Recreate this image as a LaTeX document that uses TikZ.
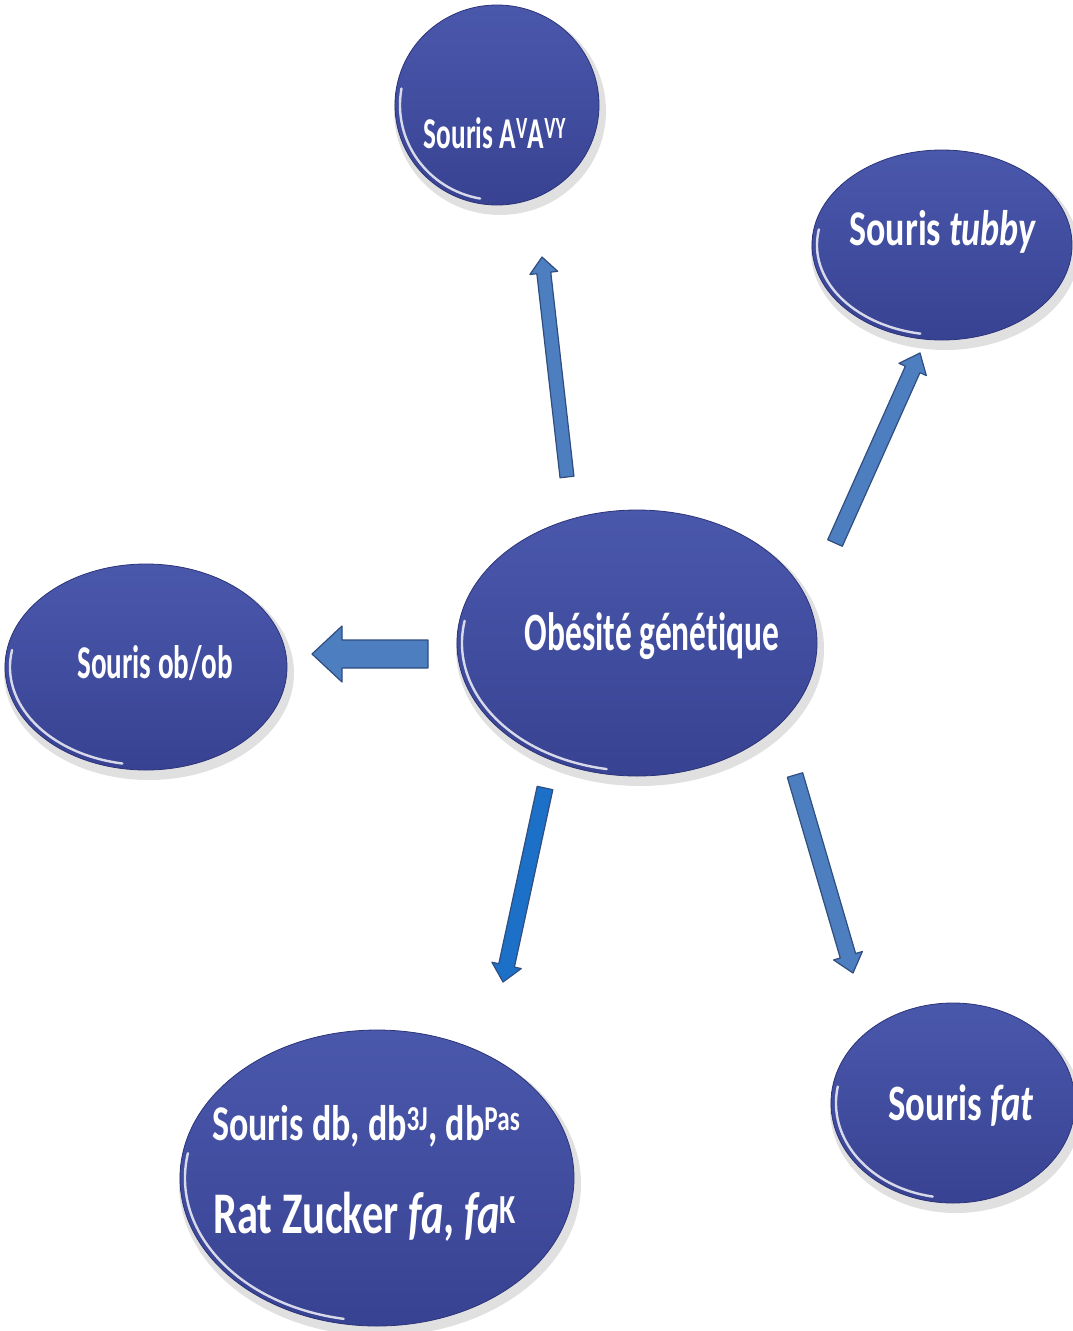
\documentclass[tikz,border=0pt]{standalone}
\usepackage{fontspec}
\setmainfont{Carlito}
\newfontfamily\cfont[FakeStretch=0.62,Ligatures=NoCommon]{Carlito}
\newfontfamily\wfont[FakeStretch=0.72,Ligatures=NoCommon]{Carlito}
\usetikzlibrary{shapes.geometric,calc}
\definecolor{bubtop}{RGB}{74,88,172}
\definecolor{bubbot}{RGB}{56,66,146}
\definecolor{bubedge}{RGB}{44,52,120}
\definecolor{arrfill}{RGB}{76,126,192}
\definecolor{arredge}{RGB}{48,78,128}
\definecolor{arrbright}{RGB}{28,112,200}
\tikzset{
  bubble/.style={ellipse, top color=bubtop, bottom color=bubbot, draw=bubedge, line width=0.8pt, inner sep=0pt},
  bshadow/.style={ellipse, fill=black, opacity=0.12, inner sep=0pt},
  rim/.style={white, opacity=0.8, line width=2.4pt, line cap=round},
  btext/.style={text=white, font=\cfont\bfseries, inner sep=0pt},
  wtext/.style={text=white, font=\wfont\bfseries, inner sep=0pt},
}
\newcommand\mybubble[5]{%
  \node[bshadow, minimum width=2*#4+8, minimum height=2*#5+8] at (#2+3,#3+6) {};
  \node[bubble, minimum width=2*#4, minimum height=2*#5] (#1) at (#2,#3) {};
  \draw[rim] (#2,#3) ++(100:{#4-5} and {#5-5}) arc[start angle=100,end angle=190,x radius=#4-5,y radius=#5-5];
}
\newcommand\blockarrow[6]{%
  \coordinate (ah) at ($(#2)!#5!(#1)$);
  \filldraw[fill=#6, draw=arredge, line width=1.2pt, line join=round]
    ($(#1)!#3!90:(#2)$) -- ($(ah)!#3!90:(#2)$) -- ($(ah)!#4!90:(#2)$) -- (#2)
    -- ($(ah)!#4!-90:(#2)$) -- ($(ah)!#3!-90:(#2)$) -- ($(#1)!#3!-90:(#2)$) -- cycle;
}
\begin{document}
\begin{tikzpicture}[x=1pt,y=-1pt]
\useasboundingbox (0,0) rectangle (1073,1331);
\fill[white] (0,0) rectangle (1073,1331);

% bubbles
\mybubble{top}{497}{105}{102}{100}
\mybubble{tubby}{942}{245}{130}{95}
\mybubble{obob}{146}{667}{141}{103}
\mybubble{center}{637}{643}{180}{133}
\mybubble{dbrat}{377}{1178}{197}{148}
\mybubble{fat}{953}{1103}{122}{100}

% texts
\node[btext, anchor=base] (topt) at (495,148) {\fontsize{44}{48}\selectfont Souris A\textsuperscript{V}A\textsuperscript{VY}};
\node[wtext, anchor=base] (tubbyt) at (943,245) {\fontsize{50}{54}\selectfont Souris \textit{tubby}};
\node[btext, anchor=base] (obobt) at (155,678) {\fontsize{47}{50}\selectfont Souris ob/ob};
\node[btext, anchor=base] (centert) at (652,650) {\fontsize{54}{58}\selectfont Obésité génétique};
\node[wtext, anchor=base] (fatt) at (961,1120) {\fontsize{51}{54}\selectfont Souris \textit{fat}};
\node[wtext, anchor=base west] (dbt) at (212,1140) {\fontsize{50}{54}\selectfont Souris db, db\textsuperscript{3J}, db\textsuperscript{Pas}};
\node[wtext, anchor=base west] (ratt) at (213,1233) {\fontsize{59}{63}\selectfont Rat Zucker \textit{fa}, \textit{fa}\textsuperscript{K}};

% arrow end points
\coordinate (a1s) at (567,477);  \coordinate (a1e) at (542,257);
\coordinate (a2s) at (835,543);  \coordinate (a2e) at (920,353);
\coordinate (a3s) at (428,654);  \coordinate (a3e) at (312,654);
\coordinate (a4s) at (545,788);  \coordinate (a4e) at (503,982);
\coordinate (a5s) at (795,775);  \coordinate (a5e) at (853,973);

\blockarrow{a1s}{a1e}{7pt}{14pt}{16pt}{arrfill}
\blockarrow{a2s}{a2e}{8pt}{15pt}{18pt}{arrfill}
\blockarrow{a3s}{a3e}{14pt}{28pt}{30pt}{arrfill}
\blockarrow{a4s}{a4e}{8pt}{15pt}{17pt}{arrbright}
\blockarrow{a5s}{a5e}{8pt}{15pt}{18pt}{arrfill}
\end{tikzpicture}
\end{document}
